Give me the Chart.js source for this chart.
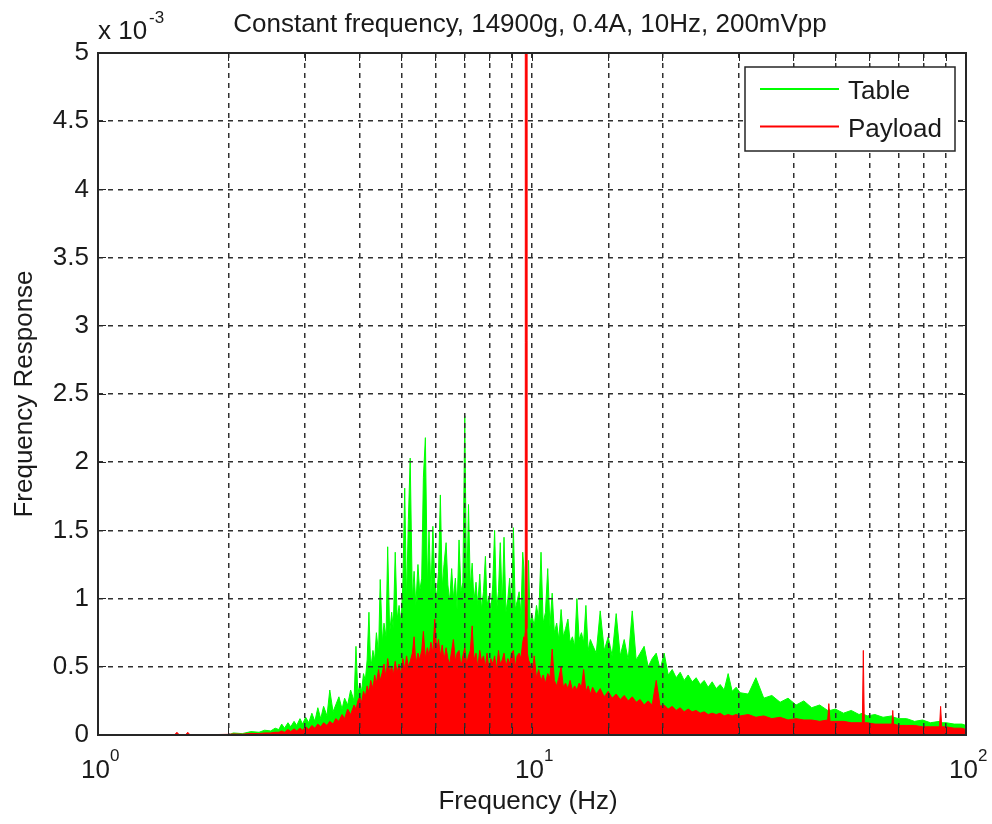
<!DOCTYPE html>
<html>
<head>
<meta charset="utf-8">
<title>Constant frequency response</title>
<script src="https://cdn.jsdelivr.net/npm/chart.js@4.4.1/dist/chart.umd.min.js"></script>
<style>
  html, body { margin: 0; padding: 0; background: #fff; }
  #plot { display: block; }
</style>
</head>
<body>
<canvas id="plot" width="992" height="824"></canvas>
<script>
'use strict';

// frequency grid in Hz, shared by both traces
const freqHz = [
  1.00, 1.50, 1.52, 1.54, 1.59, 1.61, 1.63, 2.00,
  2.05, 2.15, 2.25, 2.35, 2.42, 2.50, 2.56, 2.61,
  2.65, 2.69, 2.74, 2.78, 2.83, 2.87, 2.92, 2.96,
  3.01, 3.06, 3.11, 3.16, 3.21, 3.26, 3.31, 3.37,
  3.42, 3.48, 3.53, 3.59, 3.65, 3.70, 3.76, 3.82,
  3.89, 3.93, 3.97, 4.01, 4.05, 4.09, 4.13, 4.17, 4.21, 4.25,
  4.30, 4.34, 4.38, 4.43, 4.47, 4.52, 4.56, 4.61, 4.65, 4.70,
  4.75, 4.79, 4.84, 4.89, 4.94, 4.99, 5.04, 5.09, 5.14, 5.19,
  5.24, 5.30, 5.35, 5.40, 5.46, 5.51, 5.57, 5.62, 5.68, 5.74,
  5.79, 5.85, 5.91, 5.97, 6.03, 6.09, 6.15, 6.21, 6.27, 6.34,
  6.40, 6.46, 6.53, 6.59, 6.66, 6.72, 6.79, 6.86, 6.93, 7.00,
  7.07, 7.14, 7.21, 7.28, 7.35, 7.43, 7.50, 7.58, 7.65, 7.73,
  7.81, 7.88, 7.96, 8.04, 8.12, 8.20, 8.29, 8.37, 8.45, 8.54,
  8.62, 8.71, 8.80, 8.88, 8.97, 9.06, 9.15, 9.24, 9.34, 9.43,
  9.52, 9.58, 9.62, 9.64, 9.65, 9.72, 9.73, 9.76, 9.82, 9.90,
  10.00, 10.12, 10.24, 10.36, 10.49, 10.61, 10.74, 10.87, 11.00, 11.13,
  11.26, 11.40, 11.53, 11.67, 11.81, 11.95, 12.10, 12.24, 12.39, 12.54,
  12.69, 12.84, 13.00, 13.15, 13.31, 13.47, 13.63, 13.79,
  14.06, 14.36, 14.67, 14.98, 15.30, 15.63, 15.97,
  16.31, 16.66, 17.02, 17.38, 17.75, 18.13, 18.52, 18.92,
  19.33, 19.74, 20.16, 20.60, 21.04, 21.49, 21.95, 22.42,
  22.90, 23.39, 23.89, 24.41, 24.93, 25.46, 26.01, 26.57,
  27.14, 27.72, 28.31, 28.92, 29.54, 30.17, 31.5, 32.8,
  34.2, 35.7, 37.3, 38.9, 40.6, 42.3, 44.1, 46.0,
  48.0, 48.3, 48.6, 50.0, 52.2, 54.4, 56.7, 57.7,
  58.0, 58.3, 59.2, 61.7, 64.4, 67.5, 67.8, 68.1,
  70.0, 73.0, 76.1, 79.4, 82.8, 86.9, 87.4, 87.9,
  90.0, 93.9, 97.9, 100
]

// response magnitudes, in units of 1e-3
const tableResp = [
  0, 0, 0, 0, 0, 0, 0, 0,
  .015, .01, .025, .02, .035, .03, .05, .04,
  .08, .05, .09, .06, .10, .07, .12, .08,
  .13, .09, .16, .10, .20, .12, .21, .14,
  .33, .17, .22, .28, .19, .27, .22, .33,
  .25, .65, .30, .38, .32, .45, .40, .55, .90, .48,
  .62, .55, .75, .60, 1.14, .68, .82, .72, 1.38, .75,
  .90, .78, 1.34, .85, .95, .82, 1.10, 1.81, .98, 1.58,
  2.03, 1.00, 1.20, .95, 1.25, 1.05, 1.15, 1.89, 2.18, 1.10,
  1.50, 1.05, 1.53, 1.12, 1.00, 1.20, 1.76, 1.08, 1.25, 1.41,
  1.10, .98, 1.22, 1.00, 1.15, .92, 1.43, 1.05, 1.12, 2.34,
  1.00, 1.69, 1.08, 1.26, .98, 1.12, .95, 1.18, .92, 1.05,
  1.31, .95, 1.02, .90, 1.10, 1.50, .92, 1.05, 1.41, .95,
  1.45, .90, 1.00, 1.15, .88, 1.52, .92, .98, 1.05, .88,
  1.34, 1.22, .85, .90, .92, .95, .90, .85, 1.28, .82,
  .88, .80, .95, .85, 1.34, .82, .90, 1.22, .80, 1.04,
  .75, .82, .70, .92, .72, .78, .85, .68, .72, .65,
  1.00, .70, .75, .68, .95, .62, .70, .66,
  .60, .91, .62, .72, .58, .89, .58,
  .70, .55, .91, .55, .60, .65, .50, .56,
  .60, .48, .60, .44, .48, .42, .46, .40,
  .44, .39, .42, .37, .40, .35, .39, .34,
  .37, .33, .45, .32, .35, .31, .30, .42,
  .27, .29, .24, .27, .22, .25, .20, .22,
  .18, .19, .18, .19, .16, .18, .15, .16,
  .15, .15, .14, .15, .13, .14, .13, .13,
  .12, .12, .10, .11, .09, .10, .09, .09,
  .09, .08, .08, .07
]

const payloadResp = [
  0, 0, .02, 0, 0, .02, 0, .005,
  .008, .006, .012, .01, .015, .015, .02, .02,
  .03, .02, .04, .025, .045, .03, .05, .035,
  .06, .04, .07, .05, .08, .06, .09, .07,
  .10, .08, .12, .10, .15, .12, .19, .15,
  .22, .19, .25, .28, .24, .32, .28, .36, .31, .40,
  .34, .44, .38, .48, .40, .46, .52, .42, .56, .46,
  .50, .44, .54, .46, .52, .44, .56, .48, .58, .50,
  .54, .60, .72, .52, .60, .55, .62, .76, .56, .64,
  .58, .68, .60, .85, .62, .70, .58, .66, .55, .64,
  .56, .52, .62, .70, .54, .60, .62, .50, .58, .64,
  .52, .58, .62, .80, .55, .60, .50, .62, .54, .58,
  .50, .60, .48, .56, .52, .58, .48, .62, .52, .55,
  .60, .50, .56, .52, .60, .62, .50, .58, .60, .56,
  .68, .72, .70, .75, 7.8, 7.8, .78, .60, .55, .52,
  .45, .58, .42, .48, .40, .44, .38, .45, .42, .63,
  .40, .36, .42, .50, .35, .38, .34, .40, .33, .36,
  .33, .38, .35, .48, .32, .36, .30, .35,
  .30, .34, .28, .32, .27, .30, .26,
  .29, .25, .28, .24, .26, .22, .25, .22,
  .40, .21, .22, .19, .21, .18, .20, .17,
  .19, .17, .18, .16, .17, .15, .16, .15,
  .16, .14, .15, .14, .15, .14, .15, .13,
  .14, .12, .13, .11, .12, .11, .11, .10,
  .11, .23, .10, .10, .10, .09, .09, .09,
  .62, .09, .09, .08, .08, .08, .18, .08,
  .07, .07, .07, .06, .06, .06, .21, .06,
  .06, .05, .05, .04
]

const yTicks = [0, 0.5, 1, 1.5, 2, 2.5, 3, 3.5, 4, 4.5, 5]
const xDecades = [1, 10, 100]
const xExponents = ['0', '1', '2']

const FONT = "'Liberation Sans', Arial, sans-serif"
const INK = '#1a1a1a'
const AXIS = '#262626'
const GRID = '#303030'

function toPoints(values) {
  return freqHz.map((f, i) => ({ x: f, y: values[i] }))
}

// axes box, inward ticks, labels and legend drawn the MATLAB way
const matlabFrame = {
  id: 'matlabFrame',
  afterDraw(chart) {
    const ctx = chart.ctx
    const area = chart.chartArea
    const xs = chart.scales.x
    const ys = chart.scales.y
    const align = (p) => Math.round(p - 0.5) + 0.5

    ctx.save()
    ctx.strokeStyle = AXIS
    ctx.lineWidth = 1
    ctx.beginPath()
    for (const t of xs.ticks) {
      const px = align(xs.getPixelForValue(t.value))
      ctx.moveTo(px, area.bottom)
      ctx.lineTo(px, area.bottom - 8)
      ctx.moveTo(px, area.top)
      ctx.lineTo(px, area.top + 8)
    }
    for (const v of yTicks) {
      const py = align(ys.getPixelForValue(v))
      ctx.moveTo(area.left, py)
      ctx.lineTo(area.left + 8, py)
      ctx.moveTo(area.right, py)
      ctx.lineTo(area.right - 8, py)
    }
    ctx.stroke()

    ctx.lineWidth = 2
    ctx.strokeRect(area.left, area.top, area.right - area.left, area.bottom - area.top)

    // y tick labels
    ctx.fillStyle = INK
    ctx.font = '26px ' + FONT
    ctx.textAlign = 'right'
    ctx.textBaseline = 'middle'
    for (const v of yTicks) {
      ctx.fillText(String(v), area.left - 9, ys.getPixelForValue(v))
    }

    // exponent multiplier above the y axis
    ctx.textAlign = 'left'
    ctx.textBaseline = 'alphabetic'
    ctx.fillText('x 10', area.left, 39)
    ctx.font = '17px ' + FONT
    ctx.fillText('-3', area.left + 51, 23)

    // x tick labels 10^n
    xDecades.forEach((d, i) => {
      const px = xs.getPixelForValue(d)
      ctx.font = '26px ' + FONT
      ctx.fillText('10', px - 17, 778)
      ctx.font = '17px ' + FONT
      ctx.fillText(xExponents[i], px + 12, 761)
    })

    // title and axis titles
    ctx.font = '26px ' + FONT
    ctx.textAlign = 'center'
    const cx = (area.left + area.right) / 2
    ctx.fillText('Constant frequency, 14900g, 0.4A, 10Hz, 200mVpp', cx - 2, 32)
    ctx.fillText('Frequency (Hz)', cx - 4, 809)
    ctx.save()
    ctx.translate(25, (area.top + area.bottom) / 2)
    ctx.rotate(-Math.PI / 2)
    ctx.textBaseline = 'middle'
    ctx.fillText('Frequency Response', 0, 0)
    ctx.restore()

    // legend box
    const box = { left: 745, top: 67, right: 955, bottom: 151 }
    ctx.fillStyle = '#fff'
    ctx.fillRect(box.left, box.top, box.right - box.left, box.bottom - box.top)
    ctx.strokeStyle = AXIS
    ctx.lineWidth = 1.5
    ctx.strokeRect(box.left, box.top, box.right - box.left, box.bottom - box.top)
    const rows = [89, 126.5]
    ctx.textAlign = 'left'
    ctx.textBaseline = 'alphabetic'
    ctx.font = '26px ' + FONT
    chart.data.datasets.forEach((ds, i) => {
      const ly = rows[i]
      ctx.strokeStyle = ds.borderColor
      ctx.lineWidth = 2
      ctx.beginPath()
      ctx.moveTo(760, ly)
      ctx.lineTo(839, ly)
      ctx.stroke()
      ctx.fillStyle = INK
      ctx.fillText(ds.label, 848, ly + 10)
    })
    ctx.restore()
  }
}

const ctxPlot = document.getElementById('plot')

const plotChart = new Chart(ctxPlot, {
  type: 'line',
  data: {
    datasets: [
      {
        label: 'Table',
        data: toPoints(tableResp),
        borderColor: '#00ff00',
        backgroundColor: '#00ff00',
        borderWidth: 1,
        pointRadius: 0,
        tension: 0,
        fill: 'origin',
        order: 2
      },
      {
        label: 'Payload',
        data: toPoints(payloadResp),
        borderColor: '#ff0000',
        backgroundColor: '#ff0000',
        borderWidth: 1,
        pointRadius: 0,
        tension: 0,
        fill: 'origin',
        order: 1
      }
    ]
  },
  options: {
    responsive: false,
    animation: false,
    events: [],
    layout: {
      padding: { left: 98, top: 53, right: 26, bottom: 89 }
    },
    plugins: {
      legend: { display: false },
      tooltip: { enabled: false }
    },
    scales: {
      x: {
        type: 'logarithmic',
        min: 1,
        max: 100,
        ticks: { display: false },
        grid: { color: GRID, lineWidth: 1.5, drawTicks: false, z: 1 },
        border: { display: false, dash: [5, 5] }
      },
      y: {
        type: 'linear',
        min: 0,
        max: 5,
        ticks: { display: false, stepSize: 0.5 },
        grid: { color: GRID, lineWidth: 1.5, drawTicks: false, z: 1 },
        border: { display: false, dash: [5, 5] }
      }
    }
  },
  plugins: [matlabFrame]
})
</script>
</body>
</html>
